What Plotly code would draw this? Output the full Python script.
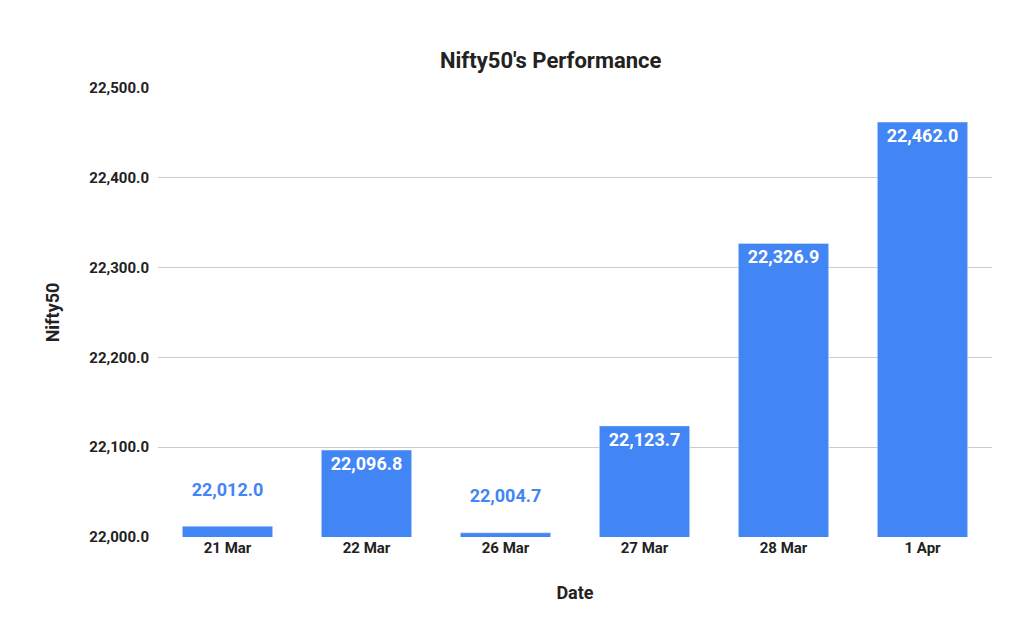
import plotly.graph_objects as go

dates = ["21 Mar", "22 Mar", "26 Mar", "27 Mar", "28 Mar", "1 Apr"]
values = [22012.0, 22096.8, 22004.7, 22123.7, 22326.9, 22462.0]
ytick_vals = [22000, 22100, 22200, 22300, 22400, 22500]

positions = ["outside" if v - 22000 < 40 else "inside" for v in values]
colors = ["#4285f4" if p == "outside" else "white" for p in positions]
labels = [f"<b>{v:,.1f}</b>" + ("<br> " if p == "outside" else "") for v, p in zip(values, positions)]

fig = go.Figure(go.Bar(
    x=dates, y=values,
    marker_color="#4285f4",
    text=labels,
    textposition=positions,
    insidetextanchor="end",
    textangle=0,
    textfont=dict(family="Roboto", size=18, color=colors),
    cliponaxis=False,
))
fig.update_layout(
    width=1024, height=633,
    paper_bgcolor="white", plot_bgcolor="white",
    margin=dict(l=150, r=40, t=80, b=104),
    bargap=0.35,
    title=dict(text="<b>Nifty50's Performance</b>", x=0.53, xanchor="center", y=0.93,
               font=dict(family="Roboto", size=22, color="#222")),
    font=dict(family="Roboto", color="#222"),
    showlegend=False,
)
fig.update_xaxes(title=dict(text="<b>Date</b>", font=dict(size=18), standoff=30),
                 tickfont=dict(size=15, family="Roboto"),
                 tickprefix="<b>", ticksuffix="</b>")
fig.update_yaxes(range=[22000, 22500], tickvals=ytick_vals,
                 ticktext=[f"<b>{v:,.1f}</b>" for v in ytick_vals],
                 tickfont=dict(size=15), gridcolor="#cccccc", zeroline=False,
                 showline=False, ticklabelstandoff=8,
                 title=dict(text="<b>Nifty50</b>", font=dict(size=18), standoff=25))
fig.write_html("out.html")
